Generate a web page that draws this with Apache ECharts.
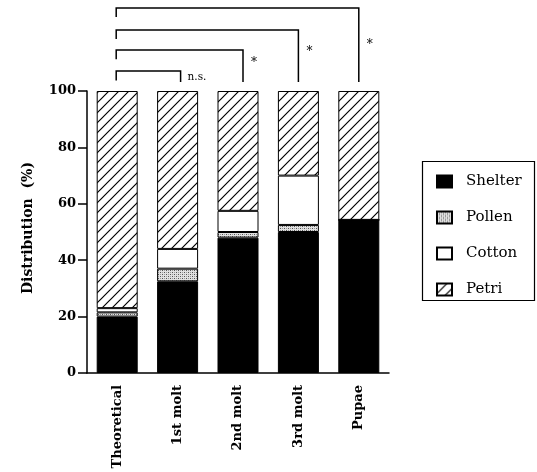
<!DOCTYPE html>
<html>
<head>
<meta charset="utf-8">
<script src="https://cdn.jsdelivr.net/npm/echarts@6/dist/echarts.min.js"></script>
<style>html,body{margin:0;padding:0;background:#fff;}#c{width:537px;height:472px;}</style>
</head>
<body>
<div id="c"></div>
<script>
// ---- data ----
const categories = ['Theoretical', '1st molt', '2nd molt', '3rd molt', 'Pupae'];
const shelter = [20, 32.5, 48, 50, 54.3];
const pollen  = [1.5, 4.5, 2, 2.5, 0];
const cotton  = [1.5, 7, 7.5, 17.5, 0];
const petri   = [77, 56, 42.5, 30, 45.7];
const seriesNames = ['Shelter', 'Pollen', 'Cotton', 'Petri'];
const yTickMin = 0, yTickMax = 100, yTickStep = 20;
// significance comparisons (category index from -> to, label)
const compFrom = [0, 0, 0, 0];
const compTo = [1, 2, 3, 4];
const compLabel = ['n.s.', '*', '*', '*'];

// ---- layout for annotations (in axis value units / pixel nudges) ----
const bracketLevel = [107.1, 114.5, 121.6, 129.4];
const bracketLegEnd = 103.2;
const labelLevel = [104.9, 110.0, 113.9, 116.5];
const rightLegNudge = [3, 5, 0, 0];

function hatchPattern() {
  const c = document.createElement('canvas');
  c.width = 10; c.height = 10;
  const g = c.getContext('2d');
  g.fillStyle = '#fff'; g.fillRect(0, 0, 10, 10);
  g.strokeStyle = '#000'; g.lineWidth = 1.2;
  g.beginPath();
  g.moveTo(-1, 11); g.lineTo(11, -1);
  g.moveTo(-1, 1); g.lineTo(1, -1);
  g.moveTo(9, 11); g.lineTo(11, 9);
  g.stroke();
  return c;
}
function stipplePattern() {
  const c = document.createElement('canvas');
  c.width = 4; c.height = 4;
  const g = c.getContext('2d');
  g.fillStyle = '#e0e0e0'; g.fillRect(0, 0, 4, 4);
  g.fillStyle = '#555';
  g.fillRect(0, 0, 1, 1); g.fillRect(2, 2, 1, 1);
  g.fillStyle = '#9a9a9a';
  g.fillRect(2, 0, 1, 1); g.fillRect(0, 2, 1, 1);
  return c;
}

const fills = [
  '#000',
  { image: stipplePattern(), repeat: 'repeat' },
  '#fff',
  { image: hatchPattern(), repeat: 'repeat' }
];
const values = [shelter, pollen, cotton, petri];

const chart = echarts.init(document.getElementById('c'), null, { renderer: 'canvas' });
const SERIF = 'DejaVu Serif';

chart.setOption({
  animation: false,
  backgroundColor: '#fff',
  grid: { left: 87, right: 148, top: 91, bottom: 99 },
  legend: {
    orient: 'vertical', left: 436, top: 174, padding: 0,
    itemWidth: 15, itemHeight: 12, itemGap: 21, icon: 'rect',
    textStyle: { fontFamily: SERIF, fontSize: 15, color: '#000', padding: [0, 0, 0, 9] },
    data: seriesNames
  },
  xAxis: {
    type: 'category', data: categories,
    axisLine: { lineStyle: { color: '#000', width: 1.5 } },
    axisTick: { alignWithLabel: true, length: 8, lineStyle: { color: '#000', width: 1.5 } },
    axisLabel: { rotate: 90, margin: 12, fontFamily: SERIF, fontWeight: 'bold', fontSize: 13, color: '#000' }
  },
  yAxis: {
    type: 'value', min: yTickMin, max: yTickMax, interval: yTickStep,
    name: 'Distribution  (%)', nameLocation: 'middle', nameGap: 52, nameRotate: 90,
    nameTextStyle: { fontFamily: SERIF, fontWeight: 'bold', fontSize: 14, color: '#000', padding: [0, 0, 0, 8] },
    axisLine: { show: true, lineStyle: { color: '#000', width: 1.5 } },
    axisTick: { show: true, length: 9, lineStyle: { color: '#000', width: 1.5 } },
    splitLine: { show: false },
    axisLabel: { margin: 11, fontFamily: SERIF, fontWeight: 'bold', fontSize: 13, color: '#000' }
  },
  series: seriesNames.map((n, i) => ({
    name: n, type: 'bar', stack: 'total', barWidth: 41,
    data: values[i],
    itemStyle: { color: fills[i], borderColor: '#000', borderWidth: 1 }
  }))
});

// significance brackets, positioned through the axes
const px = (c, v) => chart.convertToPixel({ xAxisIndex: 0, yAxisIndex: 0 }, [c, v]);
const elements = [];
for (let i = 0; i < compFrom.length; i++) {
  const top = bracketLevel[i];
  const leftEnd = i === 0 ? bracketLegEnd + 0.5 : top - 3.2;
  const a = px(compFrom[i], leftEnd);
  const b = px(compFrom[i], top);
  const c = px(compTo[i], top);
  const d = px(compTo[i], bracketLegEnd);
  a[0] -= 1; b[0] -= 1;
  c[0] += rightLegNudge[i]; d[0] += rightLegNudge[i];
  elements.push({
    type: 'polyline',
    shape: { points: [a, b, c, d] },
    style: { stroke: '#000', lineWidth: 1.5, fill: null }
  });
  const lp = px(compTo[i], labelLevel[i]);
  elements.push({
    type: 'text',
    x: lp[0] + rightLegNudge[i] + (i === 0 ? 7 : 8), y: lp[1],
    style: {
      text: compLabel[i], fontFamily: SERIF, fontSize: i === 0 ? 10.5 : 12,
      fill: '#000', textVerticalAlign: 'middle', textAlign: 'left'
    }
  });
}
// legend frame
elements.push({
  type: 'rect',
  shape: { x: 422.5, y: 161.5, width: 112, height: 139 },
  style: { stroke: '#000', lineWidth: 1.2, fill: null }
});
chart.setOption({ graphic: { elements: elements } });
</script>
</body>
</html>
